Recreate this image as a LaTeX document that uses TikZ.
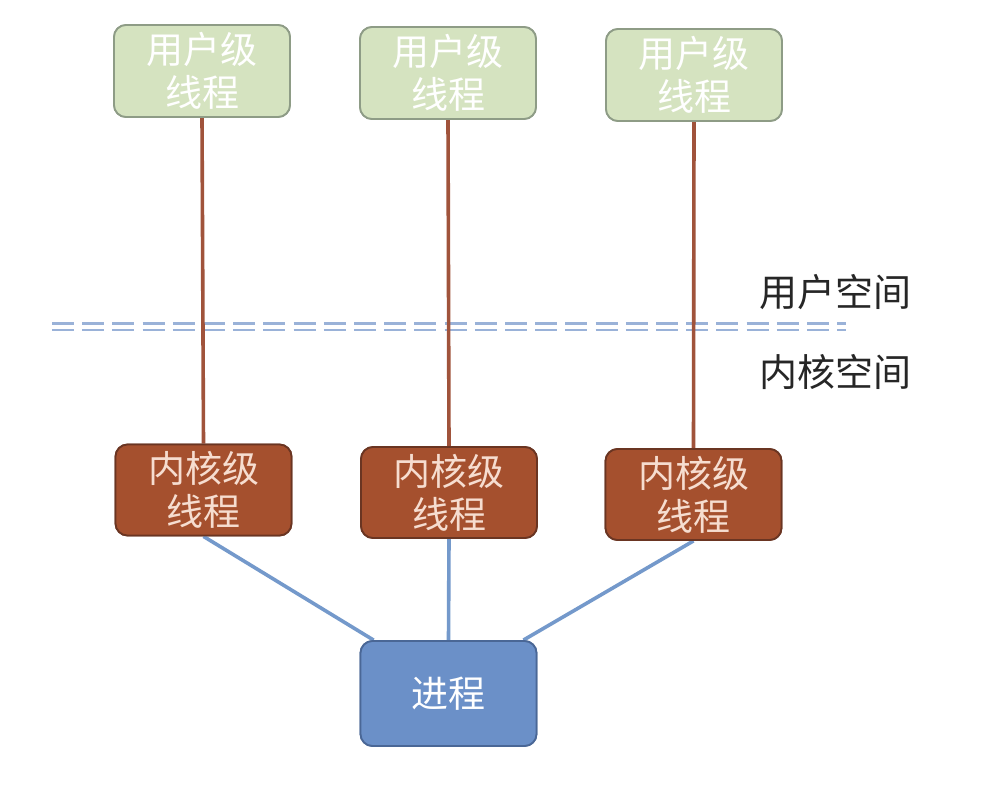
\documentclass[tikz,border=0pt]{standalone}
\usepackage{fontspec}
\newfontfamily\cjk{Noto Sans CJK SC}
\definecolor{ufill}{HTML}{D5E3C0}
\definecolor{udraw}{HTML}{8E9C86}
\definecolor{kfill}{HTML}{A5502E}
\definecolor{kdraw}{HTML}{6A3522}
\definecolor{ktext}{HTML}{F6DDD0}
\definecolor{pfill}{HTML}{6B90C8}
\definecolor{pdraw}{HTML}{4A6796}
\definecolor{brownline}{HTML}{A0533B}
\definecolor{blueline}{HTML}{7499CB}
\definecolor{dashcol}{HTML}{9AB2D8}
\tikzset{
  box/.style={rounded corners=12pt, line width=1.8pt, minimum width=176pt, align=center,
    font=\cjk\fontsize{37}{43}\selectfont, inner sep=0pt},
  ubox/.style={box, fill=ufill, draw=udraw, text=white, minimum height=92pt},
  kbox/.style={box, fill=kfill, draw=kdraw, text=ktext, minimum height=91pt},
  pbox/.style={box, fill=pfill, draw=pdraw, text=white, minimum height=105pt},
  uline/.style={draw=brownline, line width=3.6pt},
  kline/.style={draw=blueline, line width=3.6pt},
  sepline/.style={draw=dashcol, line width=2.8pt, dash pattern=on 22pt off 8.2pt},
  lbl/.style={font=\cjk\fontsize{38}{40}\selectfont, text=black!85, inner sep=0pt}
}
\begin{document}
\begin{tikzpicture}[x=1pt,y=-1pt]
\useasboundingbox (0,0) rectangle (982,790);
\fill[white] (0,0) rectangle (982,790);
% separator
\coordinate (s1) at (52,323.5);
\coordinate (s2) at (846,323.5);
\coordinate (s3) at (52,330);
\coordinate (s4) at (846,330);
\draw[sepline] (s1) -- (s2);
\draw[sepline] (s3) -- (s4);
% nodes
\node[ubox] (u1) at (202,71) {用户级\\线程};
\node[ubox] (u2) at (448,73) {用户级\\线程};
\node[ubox] (u3) at (694,75) {用户级\\线程};
\node[kbox] (k1) at (203.5,490) {内核级\\线程};
\node[kbox] (k2) at (449,492.5) {内核级\\线程};
\node[kbox] (k3) at (693.5,494.5) {内核级\\线程};
\node[pbox] (p) at (448.5,693.5) {进程};
\node[lbl] (ls) at (835,292) {用户空间};
\node[lbl] (lk) at (835,372) {内核空间};
% connectors
\draw[uline] (u1.south) -- (k1.north);
\draw[uline] (u2.south) -- (k2.north);
\draw[uline] (u3.south) -- (k3.north);
\draw[kline] (k1.south) -- ([xshift=14pt]p.north west);
\draw[kline] (k2.south) -- (p.north);
\draw[kline] (k3.south) -- ([xshift=-14pt]p.north east);
% redraw nodes on top of connectors
\node[ubox] at (u1) {用户级\\线程};
\node[ubox] at (u2) {用户级\\线程};
\node[ubox] at (u3) {用户级\\线程};
\node[kbox] at (k1) {内核级\\线程};
\node[kbox] at (k2) {内核级\\线程};
\node[kbox] at (k3) {内核级\\线程};
\node[pbox] at (p) {进程};
\end{tikzpicture}
\end{document}
